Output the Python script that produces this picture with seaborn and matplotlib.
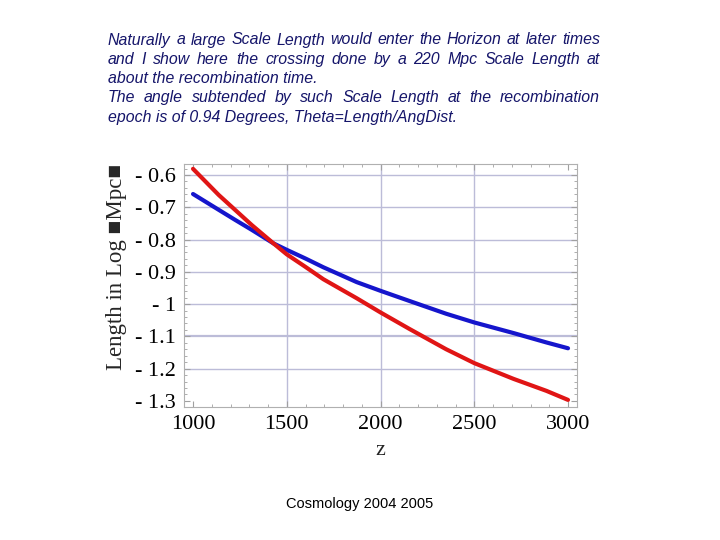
import matplotlib
matplotlib.use("Agg")
import matplotlib.pyplot as plt
import pandas as pd
import seaborn as sns
from matplotlib.ticker import FuncFormatter, MultipleLocator

# values
z_vals = [1000, 1137, 1224, 1313, 1429, 1500, 1600, 1695, 1873, 2000, 2157, 2350, 2500,
          2710, 2885, 3000]
horizon = [-0.581, -0.662, -0.708, -0.755, -0.812, -0.846, -0.885, -0.923, -0.982, -1.026,
           -1.078, -1.140, -1.183, -1.232, -1.269, -1.297]
scale_len = [-0.659, -0.708, -0.739, -0.770, -0.812, -0.832, -0.859, -0.886, -0.932, -0.959,
             -0.991, -1.030, -1.057, -1.090, -1.119, -1.137]
x_ticks = [1000, 1500, 2000, 2500, 3000]
y_ticks = [-0.6, -0.7, -0.8, -0.9, -1.0, -1.1, -1.2, -1.3]

text_lines = [
    ("Naturally a large Scale Length would enter the Horizon at later times", True),
    ("and I show here the crossing done by a 220 Mpc Scale Length at", True),
    ("about the recombination time.", False),
    ("The angle subtended by such Scale Length at the recombination", True),
    ("epoch is of 0.94 Degrees, Theta=Length/AngDist.", False),
]

df = pd.DataFrame({"z": z_vals, "red": horizon, "blue": scale_len})

sns.set_theme(style="white")
serif = ["Liberation Serif", "DejaVu Serif"]
sans = ["Liberation Sans", "DejaVu Sans"]

fig = plt.figure(figsize=(7.2, 5.4), dpi=100)
ax = fig.add_axes([0.2556, 0.2463, 0.5458, 0.450])

grid_c = "#bcbcd8"
for xv in x_ticks[1:-1]:
    ax.axvline(xv, color=grid_c, lw=1.0, zorder=0)
for yv in y_ticks[:-1]:
    ax.axhline(yv, color=grid_c, lw=1.6 if yv == -1.1 else 1.0, zorder=0)

sns.lineplot(data=df, x="z", y="red", color="#e01515", lw=3.0, ax=ax, zorder=3)
sns.lineplot(data=df, x="z", y="blue", color="#1515cc", lw=3.0, ax=ax, zorder=2)

ax.set_xlim(952, 3048)
ax.set_ylim(-1.319, -0.566)
ax.set_xticks(x_ticks)
ax.set_yticks(y_ticks)
ax.xaxis.set_minor_locator(MultipleLocator(100))
ax.yaxis.set_minor_locator(MultipleLocator(0.02))
ax.yaxis.set_major_formatter(FuncFormatter(lambda v, p: f"- {abs(v):g}"))
ax.tick_params(which="both", direction="in", color="#a0a0a0", top=True, right=True,
               bottom=True, left=True)
ax.tick_params(which="major", length=4, width=0.8, labelsize=16, pad=6)
ax.tick_params(which="minor", length=2, width=0.6)
for lab in ax.get_xticklabels() + ax.get_yticklabels():
    lab.set_family(serif)
    lab.set_color("black")
for sp in ax.spines.values():
    sp.set_color("#b0b0b0")
    sp.set_linewidth(0.8)

ax.set_xlabel("z", family=serif, fontsize=16, labelpad=5)
ax.set_ylabel("Length in Log \u25a0Mpc\u25a0", family=serif + ["DejaVu Sans"], fontsize=16.5)
ax.yaxis.set_label_coords(-0.145, 0.578)

# justified slide text
renderer = fig.canvas.get_renderer()
left_px, right_px = 108, 600
y0 = 540 - 40
fs = 11.4
for i, (line, justify) in enumerate(text_lines):
    ypix = y0 - i * 19.3
    words = line.split(" ")
    if not justify:
        fig.text(left_px / 720, ypix / 540, line, ha="left", va="center", fontsize=fs,
                 style="italic", family=sans, color="#15156a")
        continue
    widths = []
    for w in words:
        t = fig.text(0, 0, w, fontsize=fs, style="italic", family=sans)
        widths.append(t.get_window_extent(renderer).width)
        t.remove()
    gap = (right_px - left_px - sum(widths)) / (len(words) - 1)
    xpos = left_px
    for w, wd in zip(words, widths):
        fig.text(xpos / 720, ypix / 540, w, ha="left", va="center", fontsize=fs,
                 style="italic", family=sans, color="#15156a")
        xpos += wd + gap

fig.text(360 / 720, 1 - 504 / 540, "Cosmology 2004 2005", ha="center", va="center",
         fontsize=10.5, family=sans, color="black")

fig.savefig("out.png", dpi=100)
